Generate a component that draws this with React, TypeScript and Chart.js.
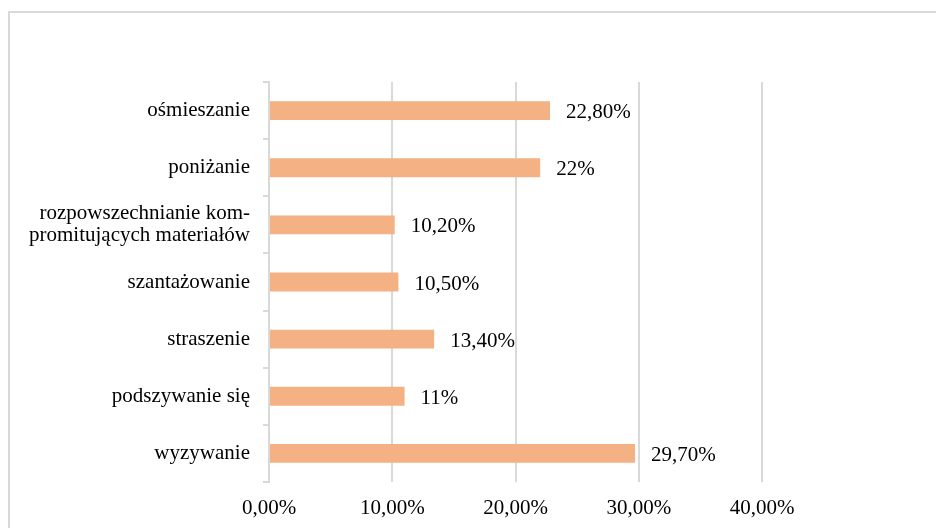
import React, { useEffect, useRef } from "react";
import { Chart, registerables } from "chart.js";

Chart.register(...registerables);

const categories: (string | string[])[] = [
  "ośmieszanie",
  "poniżanie",
  ["rozpowszechnianie kom-", "promitujących materiałów"],
  "szantażowanie",
  "straszenie",
  "podszywanie się",
  "wyzywanie",
];
const values = [22.8, 22, 10.2, 10.5, 13.4, 11, 29.7];
const valueLabels = ["22,80%", "22%", "10,20%", "10,50%", "13,40%", "11%", "29,70%"];
const xTicks = [0, 10, 20, 30, 40];

const FONT = "'Liberation Serif', 'Times New Roman', serif";
const GRID = "#d9d9d9";

const framePlugin = {
  id: "frame",
  beforeDraw(chart: any) {
    const ctx = chart.ctx;
    ctx.save();
    ctx.strokeStyle = GRID;
    ctx.lineWidth = 2;
    ctx.beginPath();
    ctx.moveTo(9, 528);
    ctx.lineTo(9, 12);
    ctx.lineTo(936, 12);
    ctx.stroke();
    ctx.restore();
  },
};

const valueLabelPlugin = {
  id: "valueLabels",
  afterDatasetsDraw(chart: any) {
    const ctx = chart.ctx;
    const meta = chart.getDatasetMeta(0);
    ctx.save();
    ctx.font = `21px ${FONT}`;
    ctx.fillStyle = "#000";
    ctx.textAlign = "left";
    ctx.textBaseline = "middle";
    meta.data.forEach((bar: any, i: number) => {
      ctx.fillText(valueLabels[i], bar.x + 16, bar.y + 2);
    });
    ctx.restore();
  },
};

export default function App() {
  const ref = useRef<HTMLCanvasElement>(null);
  useEffect(() => {
    if (!ref.current) return;
    const chart = new Chart(ref.current, {
      type: "bar",
      data: {
        labels: categories,
        datasets: [
          {
            data: values,
            backgroundColor: "#F4B183",
            borderWidth: 0,
            barPercentage: 0.66,
            categoryPercentage: 0.5,
          },
        ],
      },
      options: {
        indexAxis: "y",
        animation: false,
        responsive: false,
        layout: { padding: { top: 82, right: 174, left: 0, bottom: 0 } },
        plugins: { legend: { display: false }, tooltip: { enabled: false } },
        scales: {
          x: {
            min: 0,
            max: 40,
            afterBuildTicks: (scale: any) => {
              scale.ticks = xTicks.map((v) => ({ value: v }));
            },
            afterFit: (scale: any) => {
              scale.height = 46;
            },
            grid: { color: GRID, lineWidth: 2, drawTicks: false },
            border: { display: false },
            ticks: {
              color: "#000",
              font: { family: FONT, size: 21 },
              padding: 14,
              callback: (v: any) => Number(v).toFixed(2).replace(".", ",") + "%",
            },
          },
          y: {
            afterFit: (scale: any) => {
              scale.width = 269;
            },
            grid: {
              drawOnChartArea: false,
              drawTicks: true,
              tickLength: 6,
              color: GRID,
              lineWidth: 2,
              offset: true,
            },
            border: { display: true, color: GRID, width: 2 },
            ticks: {
              color: "#000",
              font: { family: FONT, size: 21, lineHeight: 1.05 },
              padding: 13,
            },
          },
        },
      },
      plugins: [framePlugin, valueLabelPlugin],
    });
    return () => chart.destroy();
  }, []);
  return (
    <div style={{ position: "fixed", left: 0, top: 0, width: 936, height: 528, background: "#fff" }}>
      <canvas ref={ref} width={936} height={528} style={{ width: 936, height: 528 }} />
    </div>
  );
}
